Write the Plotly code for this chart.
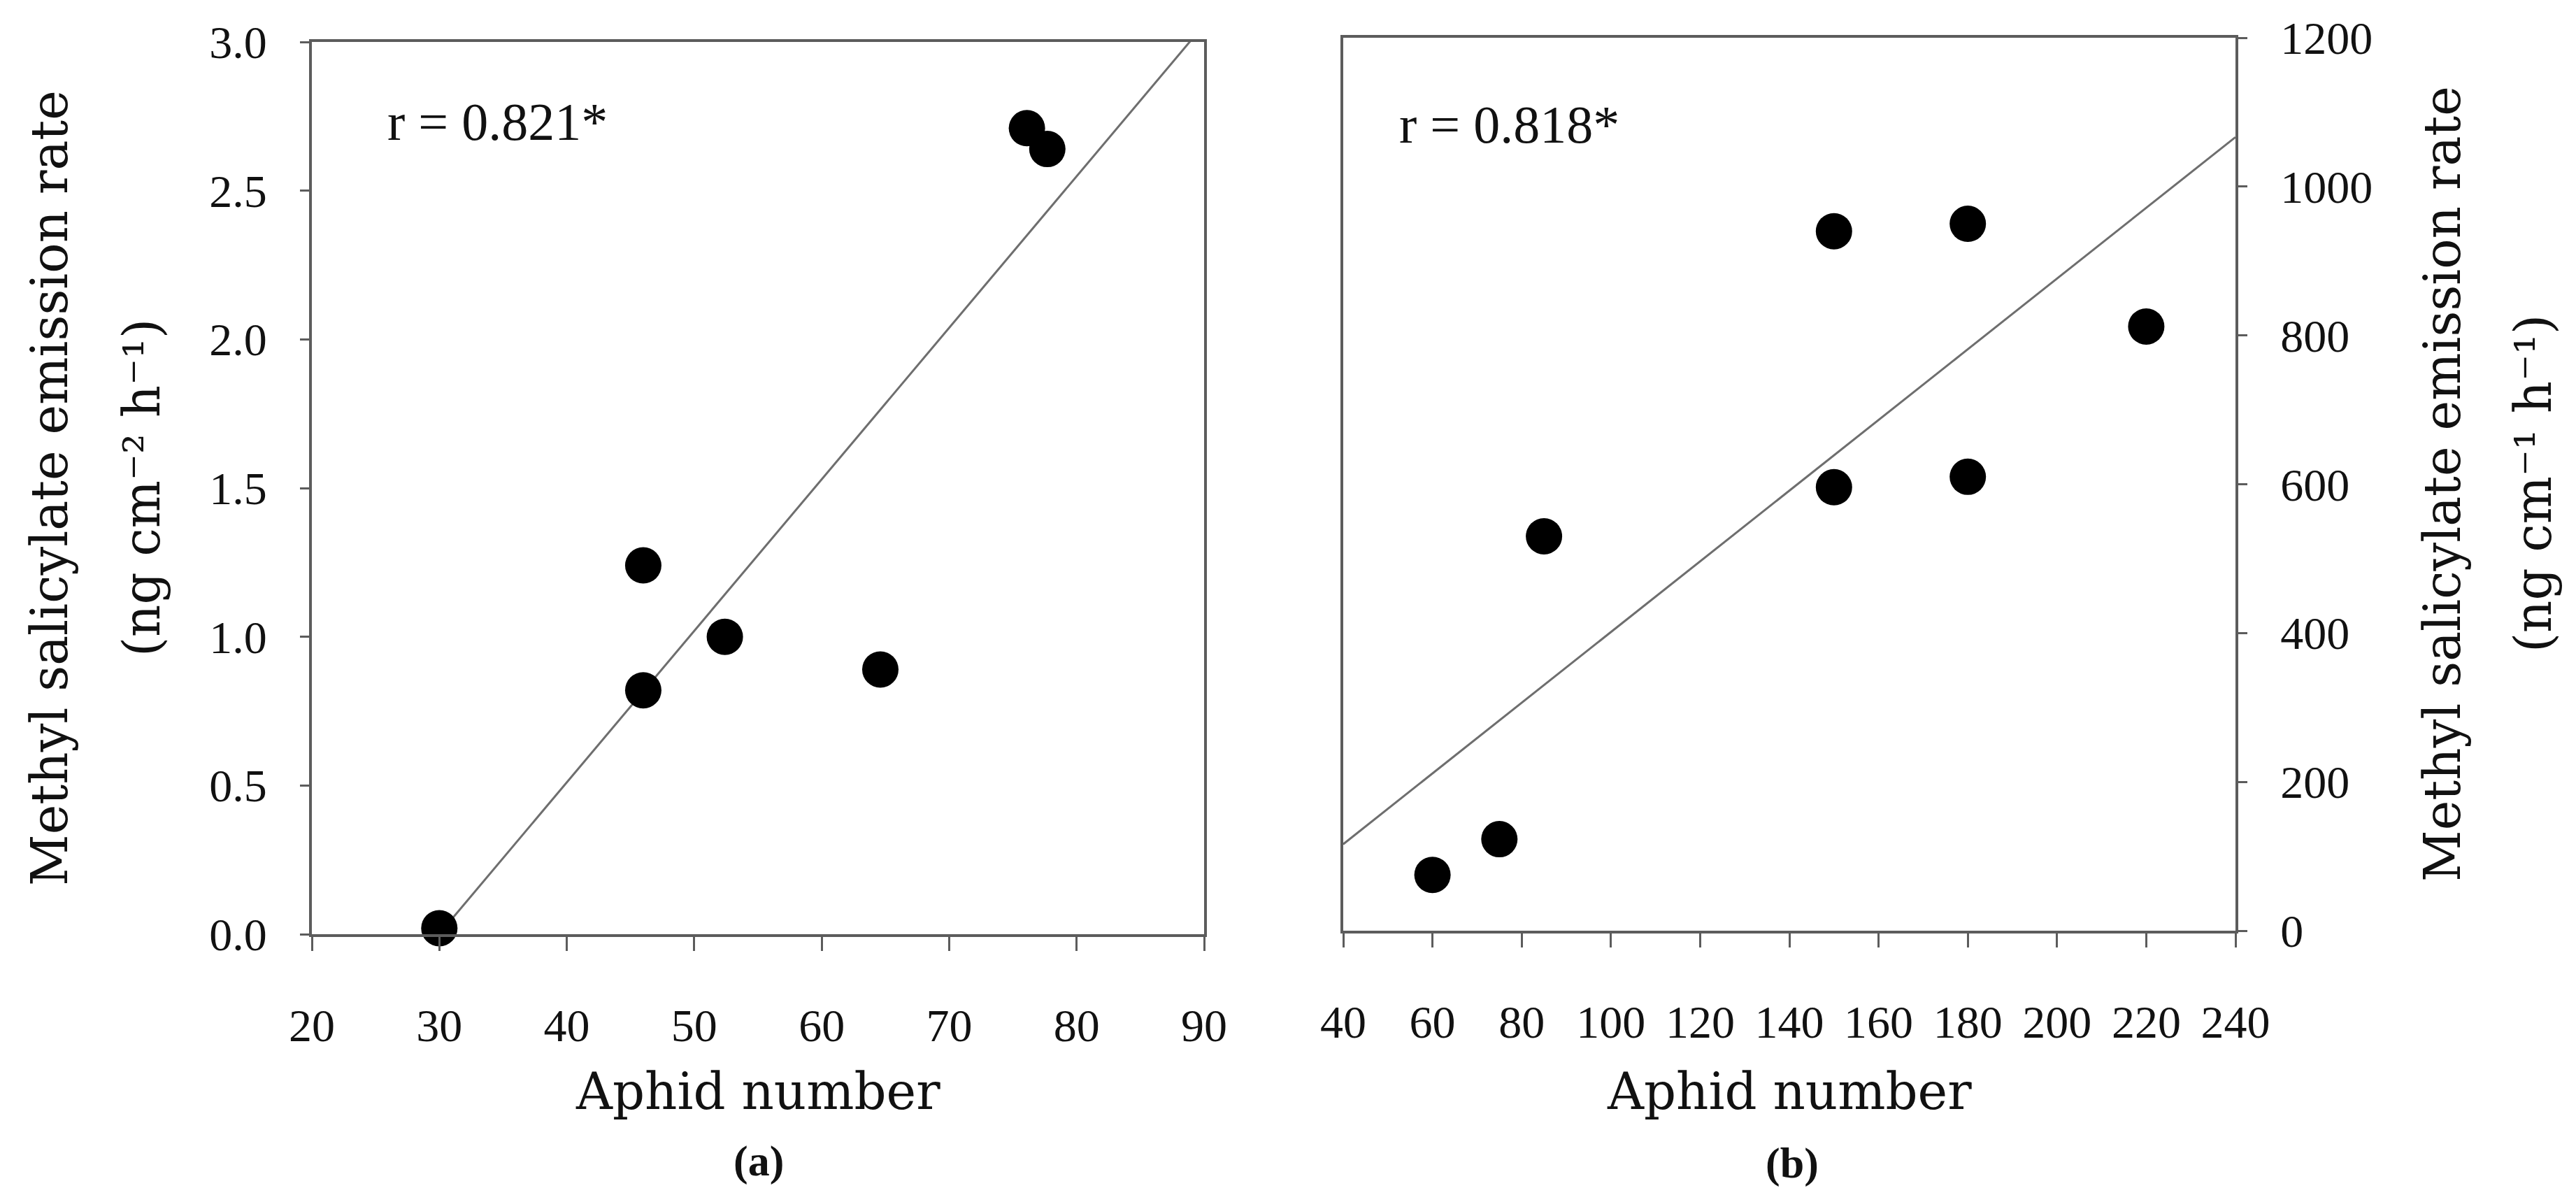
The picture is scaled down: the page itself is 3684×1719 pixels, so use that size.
import numpy as np
import plotly.graph_objects as go

# ---- data ----
a_aphids = [30, 46, 46, 52.4, 64.6, 76.1, 77.7]
a_mesa = [0.02, 1.24, 0.82, 1.0, 0.89, 2.71, 2.64]
b_aphids = [60, 75, 85, 150, 150, 180, 180, 220]
b_mesa = [75, 123, 530, 940, 596, 950, 610, 812]

a_xticks = [20, 30, 40, 50, 60, 70, 80, 90]
a_yticks = [0.0, 0.5, 1.0, 1.5, 2.0, 2.5, 3.0]
b_xticks = [40, 60, 80, 100, 120, 140, 160, 180, 200, 220, 240]
b_yticks = [0, 200, 400, 600, 800, 1000, 1200]

a_r_text = "r = 0.821*"
b_r_text = "r = 0.818*"
y_title_1 = "Methyl salicylate emission rate"
a_y_title_2 = "(ng cm\u207b\u00b2 h\u207b\u00b9)"
b_y_title_2 = "(ng cm\u207b\u00b9 h\u207b\u00b9)"
x_title = "Aphid number"

W, H = 3684, 1719
AXC = "#5c5c5c"
TREND = "#6e6e6e"
TICKFONT = dict(family="Liberation Serif", size=66, color="#111111")
TITLEFONT = dict(family="DejaVu Serif", size=72, color="#111111")


def fit_line(xs, ys, xr):
    k, c = np.polyfit(xs, ys, 1)
    lx = np.array(xr, dtype=float)
    return lx, k * lx + c


fig = go.Figure()

# panel (a)
lx, ly = fit_line(a_aphids, a_mesa, [a_xticks[0], a_xticks[-1]])
fig.add_trace(go.Scatter(x=lx, y=ly, mode="lines", xaxis="x", yaxis="y",
                         line=dict(color=TREND, width=3), showlegend=False, hoverinfo="skip"))
fig.add_trace(go.Scatter(x=a_aphids, y=a_mesa, mode="markers", xaxis="x", yaxis="y",
                         marker=dict(color="black", size=52, line=dict(width=0)),
                         cliponaxis=False, showlegend=False))

# panel (b)
lx, ly = fit_line(b_aphids, b_mesa, [b_xticks[0], b_xticks[-1]])
fig.add_trace(go.Scatter(x=lx, y=ly, mode="lines", xaxis="x2", yaxis="y2",
                         line=dict(color=TREND, width=3), showlegend=False, hoverinfo="skip"))
fig.add_trace(go.Scatter(x=b_aphids, y=b_mesa, mode="markers", xaxis="x2", yaxis="y2",
                         marker=dict(color="black", size=52, line=dict(width=0)),
                         cliponaxis=False, showlegend=False))


def px_x(p):
    return p / W


def px_y(p):
    return 1 - p / H


common = dict(showline=True, mirror=True, linecolor=AXC, linewidth=4,
              showgrid=False, zeroline=False, ticks="outside", tickcolor=AXC,
              tickwidth=3, tickfont=TICKFONT, automargin=False, fixedrange=True)

fig.update_layout(
    width=W, height=H,
    margin=dict(l=0, r=0, t=0, b=0),
    paper_bgcolor="white", plot_bgcolor="white",
    showlegend=False,
    xaxis=dict(common, domain=[px_x(438), px_x(1714)], range=[20, 90],
               tickvals=a_xticks, ticklen=20, ticklabelstandoff=50, anchor="y"),
    yaxis=dict(common, domain=[px_y(1328), px_y(52)], range=[0, 3],
               tickvals=a_yticks, tickformat=".1f", ticklen=13,
               ticklabelstandoff=34, anchor="x"),
    xaxis2=dict(common, domain=[px_x(1913), px_x(3189)], range=[40, 240],
                tickvals=b_xticks, ticklen=20, ticklabelstandoff=50, anchor="y2"),
    yaxis2=dict(common, domain=[px_y(1323), px_y(46)], range=[0, 1200],
                tickvals=b_yticks, ticklen=13, ticklabelstandoff=34,
                side="right", anchor="x2"),
)

RFONT = dict(family="Liberation Serif", size=76, color="#111111")
LFONT = dict(family="Liberation Serif", size=62, color="#111111")


def note(text, x, y, font, angle=0):
    return dict(text=text, x=px_x(x), y=px_y(y), xref="paper", yref="paper",
                showarrow=False, xanchor="center", yanchor="middle",
                textangle=angle, font=font)


ann = [
    note(a_r_text, 703, 166, RFONT),
    note(b_r_text, 2150, 170, RFONT),
    note(x_title, 1076, 1553, TITLEFONT),
    note(x_title, 2551, 1553, TITLEFONT),
    note("<b>(a)</b>", 1077, 1652, LFONT),
    note("<b>(b)</b>", 2555, 1655, LFONT),
    note(y_title_1, 63, 690, TITLEFONT, -90),
    note(a_y_title_2, 195, 690, TITLEFONT, -90),
    note(y_title_1, 3485, 684, TITLEFONT, -90),
    note(b_y_title_2, 3615, 684, TITLEFONT, -90),
]
fig.update_layout(annotations=ann)

fig.write_html("out.html", config={"displayModeBar": False})
